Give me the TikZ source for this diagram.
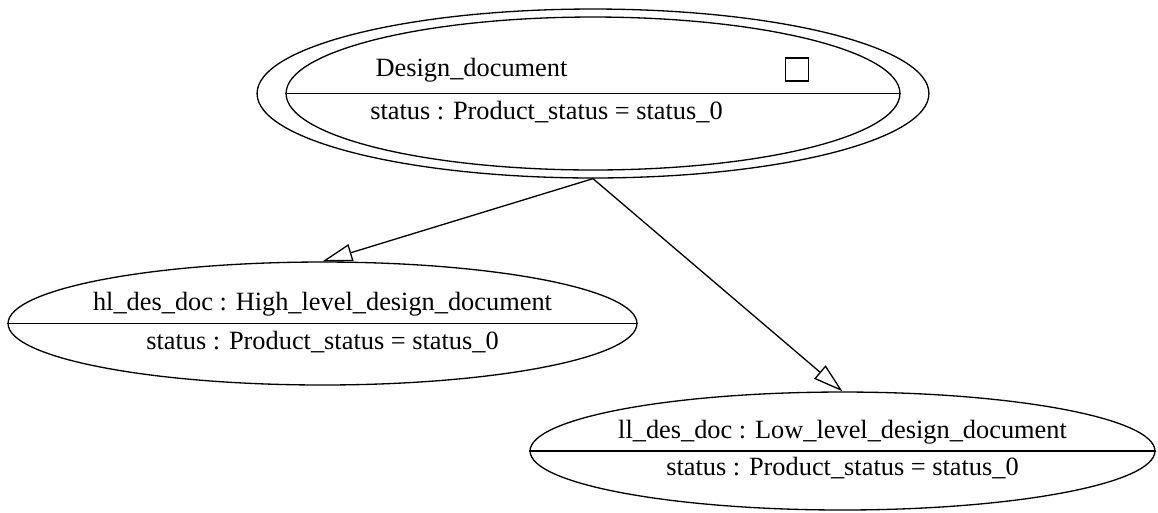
\documentclass[tikz,border=0pt]{standalone}
\usepackage{fontspec}
\setmainfont{Liberation Serif}
\usetikzlibrary{arrows.meta,shapes.geometric}
\tikzset{
  objnode/.style={ellipse,draw=black,line width=0.75pt,inner sep=0pt},
  divline/.style={line width=0.75pt},
  inh/.style={-{Triangle[open,length=17pt,width=10pt]},line width=0.75pt},
  lbl/.style={font=\fontsize{15}{18}\selectfont,inner sep=0pt,anchor=base},
  chkbox/.style={draw=black,line width=0.75pt,minimum size=0.46cm,inner sep=0pt},
}

\begin{document}
\begin{tikzpicture}[x=0.02cm,y=-0.02cm]
  \useasboundingbox (0,0) rectangle (1158,512);
  \node[objnode,minimum width=13.44cm,minimum height=3.38cm] (ddout) at (593,93.5) {};
  \node[objnode,minimum width=12.28cm,minimum height=3.06cm] (dd) at (593,93.5) {};
  \node[objnode,minimum width=12.58cm,minimum height=2.46cm] (hl) at (322.5,323.5) {};
  \node[objnode,minimum width=12.5cm,minimum height=2.36cm] (ll) at (842.5,451) {};
  \draw[divline] (dd.west) -- (dd.east);
  \draw[divline] (hl.west) -- (hl.east);
  \draw[divline] (ll.west) -- (ll.east);
  \node[lbl] (ddname) at (471.5,76.5) {Design\_document};
  \node[chkbox] (ddchk) at (797,69.5) {};
  \node[lbl] (ddattr) at (546.5,119) {status : Product\_status = status\_0};
  \node[lbl] (hlname) at (322.5,310) {hl\_des\_doc : High\_level\_design\_document};
  \node[lbl] (hlattr) at (322.5,349) {status : Product\_status = status\_0};
  \node[lbl] (llname) at (842.5,438) {ll\_des\_doc : Low\_level\_design\_document};
  \node[lbl] (llattr) at (842.5,475) {status : Product\_status = status\_0};
  \draw[inh] (ddout.south) -- (hl.north);
  \draw[inh] (ddout.south) -- (ll.north);
\end{tikzpicture}
\end{document}
